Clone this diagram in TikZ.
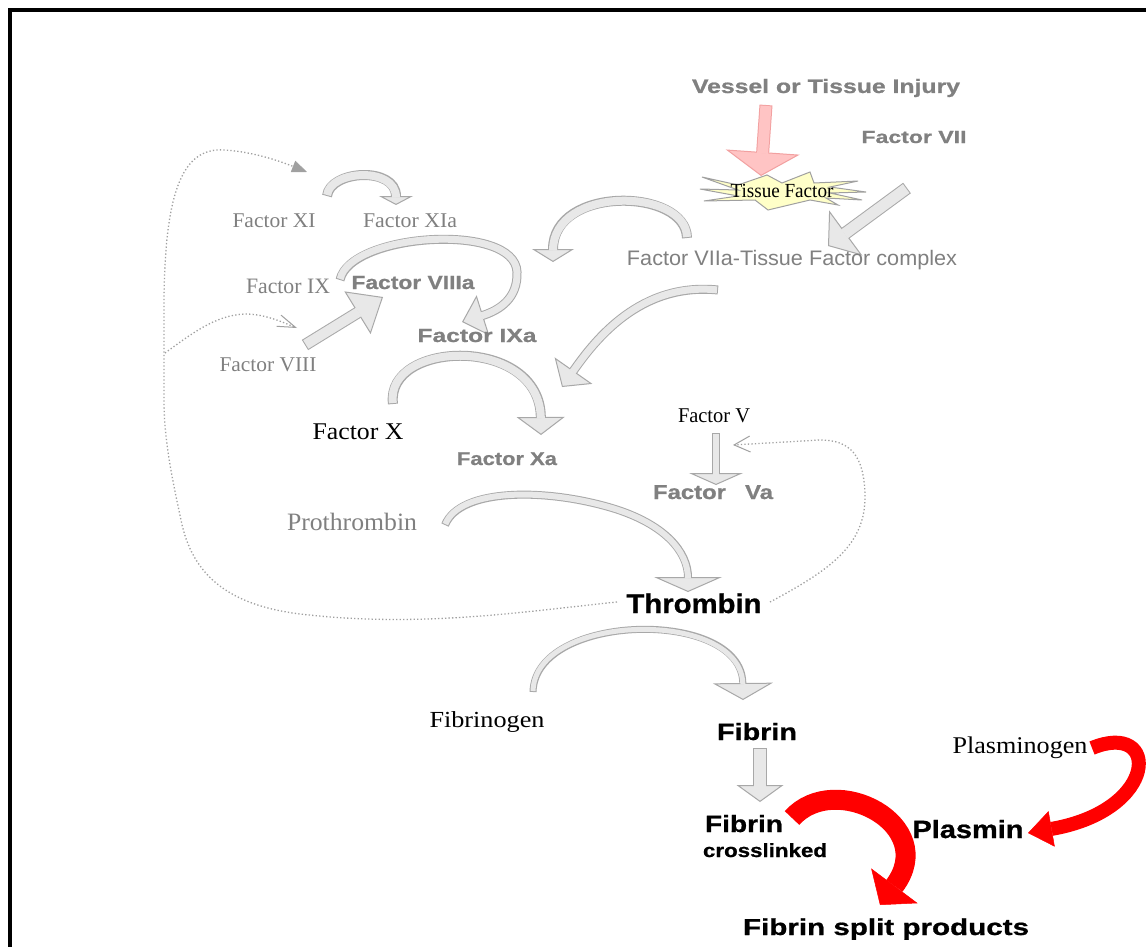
\documentclass[tikz,border=0pt]{standalone}
\usepackage{fontspec}
\setmainfont{Liberation Serif}
\newfontfamily\arialf{Liberation Sans}
\newfontfamily\arialb[FakeBold=0.8]{Liberation Sans Bold}
\usepackage{graphicx}
\usetikzlibrary{arrows.meta}

\definecolor{arrfill}{HTML}{E8E8E8}
\definecolor{arrline}{HTML}{A8A8A8}
\definecolor{txtgray}{HTML}{808080}
\definecolor{pinkfill}{HTML}{FFC4C4}
\definecolor{pinkline}{HTML}{F2A0A0}
\definecolor{starfill}{HTML}{FFFFC8}
\definecolor{starline}{HTML}{A0A0A0}
\definecolor{dotgray}{HTML}{A0A0A0}

% label text: target width, font size, text
\newcommand\lbltext[3]{\resizebox{#1pt}{\height}{\fontsize{#2pt}{#2pt}\selectfont #3}}
% outlined block arrow: fill, outline, shaft width, head length, head width, path
\newcommand\fatarrow[6]{%
  \draw[draw=#2, line width=#3pt,
        -{Triangle[length=#4pt, width=#5pt, fill=#1, line width=1pt]}] #6;
  \draw[draw=#1, line width=#3pt-2pt, shorten >=#4pt-1.5pt, shorten <=1pt] #6;}

\tikzset{
  lab/.style={anchor=base, inner sep=0pt, outer sep=0pt},
  sgray/.style={lab, font=\rmfamily, text=txtgray},
  sblack/.style={lab, font=\rmfamily, text=black},
  rgray/.style={lab, font=\arialf, text=txtgray},
  bgray/.style={lab, font=\arialb, text=txtgray},
  bblack/.style={lab, font=\arialb, text=black},
  dotline/.style={draw=dotgray, line width=1.3pt, dash pattern=on 1.3pt off 2.2pt},
  redarrow/.style n args={3}{draw=red, line width=#1pt,
        -{Triangle[length=#2pt, width=#3pt, line width=0.5pt]}},
}

\begin{document}
\begin{tikzpicture}[x=1pt,y=-1pt]
\useasboundingbox (0,0) rectangle (1146,947);
\fill[white] (0,0) rectangle (1146,947);

% frame
\coordinate (frameBL) at (10,947);
\coordinate (frameTL) at (10,10);
\coordinate (frameTR) at (1146,10);
\draw[line width=4pt] (frameBL) -- (frameTL) -- (frameTR);

% arrow end points
\coordinate (pT) at (766,105);  \coordinate (pH) at (761,176);
\coordinate (vT) at (907,188);  \coordinate (vH) at (828,246);
\coordinate (aT) at (327,196);  \coordinate (aH) at (396,205);
\coordinate (bT) at (687,238);  \coordinate (bH) at (553,262);
\coordinate (cT) at (340,280);  \coordinate (cH) at (462,322);
\coordinate (dT) at (305,345);  \coordinate (dH) at (383,297);
\coordinate (eT) at (718,290);  \coordinate (eH) at (562,387);
\coordinate (fT) at (393,404);  \coordinate (fH) at (541,435);
\coordinate (gT) at (716,433);  \coordinate (gH) at (716,485);
\coordinate (hT) at (445,525);  \coordinate (hH) at (688,592);
\coordinate (iT) at (533,692);  \coordinate (iH) at (743,700);
\coordinate (jT) at (760,748);  \coordinate (jH) at (760,802);
\coordinate (kT) at (792,818);  \coordinate (kH) at (880,905);
\coordinate (lT) at (1092,748); \coordinate (lH) at (1028,833);
\coordinate (loopS) at (617,602); \coordinate (loopE) at (307,172);
\coordinate (brS) at (165,353);   \coordinate (brE) at (297,328);
\coordinate (vbS) at (770,602);   \coordinate (vbE) at (733,445);

% dotted feedback loops from thrombin
\draw[dotline, -{Triangle[length=15pt, width=12pt, line width=0.5pt, fill=dotgray]}]
  (loopS) .. controls (520,612) and (420,628) .. (300,614)
          .. controls (228,605) and (192,575) .. (181,520)
          .. controls (172,478) and (164,440) .. (164,400)
          -- (164,300)
          .. controls (165,185) and (185,147) .. (225,150)
          .. controls (255,152) and (282,162) .. (loopE);
\draw[dotline, -{Straight Barb[length=18pt, width=12pt, line width=1pt]}]
  (brS) .. controls (190,335) and (215,315) .. (245,314)
        .. controls (265,314) and (282,322) .. (brE);
\draw[dotline, -{Straight Barb[length=16pt, width=16pt, line width=1pt]}]
  (vbS) .. controls (830,570) and (866,545) .. (865,495)
        .. controls (864,455) and (850,440) .. (820,440) -- (vbE);

% injury arrow and tissue factor burst
\fatarrow{pinkfill}{pinkline}{13}{24}{74}{(pT) -- (pH)}
\begin{scope}[shift={(784,191)}]
  \draw[fill=starfill, draw=starline, line width=1pt, line join=miter]
    (-82,-14) -- (-46,-6) -- (-17,-16) -- (-2,-8) -- (26,-19) -- (30,-8)
    -- (74,-10) -- (46,-4) -- (82,1) -- (46,2) -- (78,9) -- (42,7)
    -- (54,14) -- (26,9) -- (-16,19) -- (-29,9) -- (-80,10) -- (-46,5)
    -- (-84,-2) -- (-46,-1) -- cycle;
\end{scope}

% grey block arrows
\fatarrow{arrfill}{arrline}{13}{22}{56}{(vT) -- (vH)}
\fatarrow{arrfill}{arrline}{10}{9}{34}{(aT) .. controls (330,170) and (396,166) .. (aH)}
\fatarrow{arrfill}{arrline}{10}{13}{42}{(bT) .. controls (686,188) and (553,185) .. (bH)}
\fatarrow{arrfill}{arrline}{9}{22}{42}{(cT) .. controls (350,233) and (515,222) .. (517,272) .. controls (518,298) and (500,310) .. (cH)}
\fatarrow{arrfill}{arrline}{12}{30}{50}{(dT) -- (dH)}
\fatarrow{arrfill}{arrline}{9}{20}{46}{(eT) .. controls (640,282) and (595,340) .. (eH)}
\fatarrow{arrfill}{arrline}{10}{18}{48}{(fT) .. controls (385,340) and (540,335) .. (fH)}
\fatarrow{arrfill}{arrline}{8}{12}{54}{(gT) -- (gH)}
\fatarrow{arrfill}{arrline}{8}{15}{68}{(hT) .. controls (460,488) and (545,488) .. (612,508) .. controls (665,524) and (688,552) .. (hH)}
\fatarrow{arrfill}{arrline}{7}{17}{60}{(iT) .. controls (535,612) and (742,608) .. (iH)}
\fatarrow{arrfill}{arrline}{14}{17}{47}{(jT) -- (jH)}

% fibrinolysis arrows
\draw[redarrow={20}{24}{58}] (kT) .. controls (835,770) and (940,825) .. (kH);
\draw[redarrow={14}{24}{36}] (lT) .. controls (1160,720) and (1160,810) .. (lH);

% labels
\node[bgray]  (injury)  at (826,93)  {\lbltext{268}{19.5}{Vessel or Tissue Injury}};
\node[bgray]  (f7)      at (914,143) {\lbltext{105}{17.5}{Factor VII}};
\node[sblack] (tf)      at (782,197) {\lbltext{103}{20}{Tissue Factor}};
\node[rgray]  (complex) at (792,265) {\lbltext{330}{21}{Factor VIIa-Tissue Factor complex}};
\node[sgray]  (f11)     at (274,227) {\lbltext{83}{21}{Factor XI}};
\node[sgray]  (f11a)    at (410,227) {\lbltext{94}{21}{Factor XIa}};
\node[sgray]  (f9)      at (288,293) {\lbltext{84}{22}{Factor IX}};
\node[bgray]  (f8a)     at (413,289) {\lbltext{123}{19}{Factor VIIIa}};
\node[bgray]  (f9a)     at (477,342) {\lbltext{119}{19}{Factor IXa}};
\node[sgray]  (f8)      at (268,371) {\lbltext{97}{21}{Factor VIII}};
\node[sblack] (f10)     at (358,439) {\lbltext{91}{24}{Factor X}};
\node[bgray]  (f10a)    at (507,465) {\lbltext{100}{18.5}{Factor Xa}};
\node[sblack] (f5)      at (714,422) {\lbltext{72}{21}{Factor V}};
\node[bgray]  (f5a)     at (713,499) {\lbltext{120}{20}{Factor\hspace{0.8em}Va}};
\node[sgray]  (prothr)  at (352,530) {\lbltext{130}{25}{Prothrombin}};
\node[bblack] (thr)     at (694,613) {\lbltext{135}{27}{Thrombin}};
\node[sblack] (fgen)    at (487,727) {\lbltext{115}{23}{Fibrinogen}};
\node[bblack] (fib)     at (757,740) {\lbltext{80}{23.5}{Fibrin}};
\node[bblack] (fibx)    at (744,832) {\lbltext{78}{23.5}{Fibrin}};
\node[bblack] (xl)      at (765,857) {\lbltext{124}{19}{crosslinked}};
\node[sblack] (pgen)    at (1020,753) {\lbltext{135}{24}{Plasminogen}};
\node[bblack] (plasmin) at (968,838) {\lbltext{111}{25}{Plasmin}};
\node[bblack] (fsp)     at (886,935) {\lbltext{286}{23}{Fibrin split products}};
\end{tikzpicture}
\end{document}
